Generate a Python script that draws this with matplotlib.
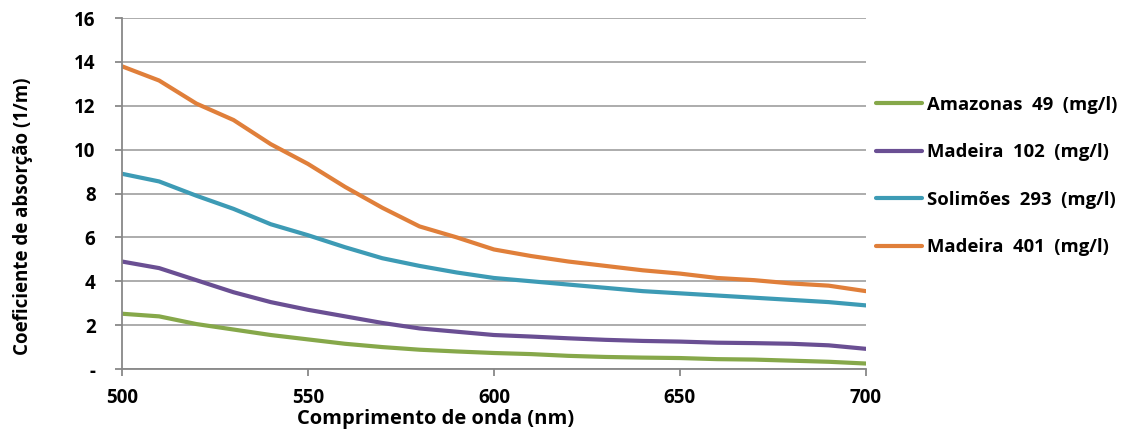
import matplotlib.pyplot as plt

plt.rcParams['font.family'] = ['Open Sans', 'DejaVu Sans']
plt.rcParams['font.weight'] = 'bold'

# comprimento de onda (nm)
wavelength = [500, 510, 520, 530, 540, 550, 560, 570, 580, 590, 600,
              610, 620, 630, 640, 650, 660, 670, 680, 690, 700]

amazonas_49 = [2.52, 2.40, 2.05, 1.80, 1.55, 1.35, 1.15, 1.00, 0.88, 0.80, 0.73,
               0.68, 0.60, 0.55, 0.52, 0.50, 0.45, 0.43, 0.38, 0.33, 0.25]
madeira_102 = [4.90, 4.60, 4.05, 3.50, 3.05, 2.70, 2.40, 2.10, 1.85, 1.70, 1.55,
               1.48, 1.40, 1.33, 1.28, 1.25, 1.20, 1.18, 1.15, 1.08, 0.92]
solimoes_293 = [8.90, 8.55, 7.90, 7.30, 6.60, 6.10, 5.55, 5.05, 4.70, 4.40, 4.15,
                4.00, 3.85, 3.70, 3.55, 3.45, 3.35, 3.25, 3.15, 3.05, 2.90]
madeira_401 = [13.80, 13.15, 12.10, 11.35, 10.25, 9.35, 8.30, 7.35, 6.50, 6.00, 5.45,
               5.15, 4.90, 4.70, 4.50, 4.35, 4.15, 4.05, 3.90, 3.80, 3.55]

labels = ["Amazonas  49  (mg/l)", "Madeira  102  (mg/l)",
          "Solimões  293  (mg/l)", "Madeira  401  (mg/l)"]
colors = ["#86a84a", "#6a4f93", "#3d9bb5", "#e07f3a"]

y_ticks = [0, 2, 4, 6, 8, 10, 12, 14, 16]
y_ticklabels = ["-", "2", "4", "6", "8", "10", "12", "14", "16"]
x_ticks = [500, 550, 600, 650, 700]

fig = plt.figure(figsize=(11.26, 4.32), dpi=100)
ax = fig.add_axes([0.1083, 0.1458, 0.6607, 0.8125])

series = [amazonas_49, madeira_102, solimoes_293, madeira_401]
for values, label, color in zip(series, labels, colors):
    ax.plot(wavelength, values, color=color, lw=3, label=label,
            solid_capstyle='round', solid_joinstyle='round')

ax.set_xlim(500, 700)
ax.set_ylim(0, 16)
ax.set_xticks(x_ticks)
ax.set_yticks(y_ticks)
ax.set_yticklabels(y_ticklabels)

ax.grid(axis='y', color='#a6a6a6', lw=1.3)
ax.set_axisbelow(True)
for side in ['top', 'right']:
    ax.spines[side].set_visible(False)
for side in ['left', 'bottom']:
    ax.spines[side].set_color('#888888')
    ax.spines[side].set_linewidth(1.3)
ax.tick_params(axis='both', direction='out', length=5, width=1.3, color='#888888',
               labelsize=13.5)
ax.tick_params(axis='y', pad=14)
ax.tick_params(axis='x', pad=9)

# os títulos dos eixos não ficam centrados no gráfico original
ax.set_ylabel("Coeficiente de absorção (1/m)", fontsize=13.5, fontweight='bold')
ax.yaxis.set_label_coords(-0.12, 0.436)
ax.set_xlabel("Comprimento de onda (nm)", fontsize=14.5, fontweight='bold')
ax.xaxis.set_label_coords(0.422, -0.113)

ax.legend(loc='center left', bbox_to_anchor=(1.013, 0.55), frameon=False,
          fontsize=13.3, handlelength=2.5, handletextpad=0.27, labelspacing=1.59,
          borderaxespad=0, borderpad=0)

fig.savefig("out.png", dpi=100)
